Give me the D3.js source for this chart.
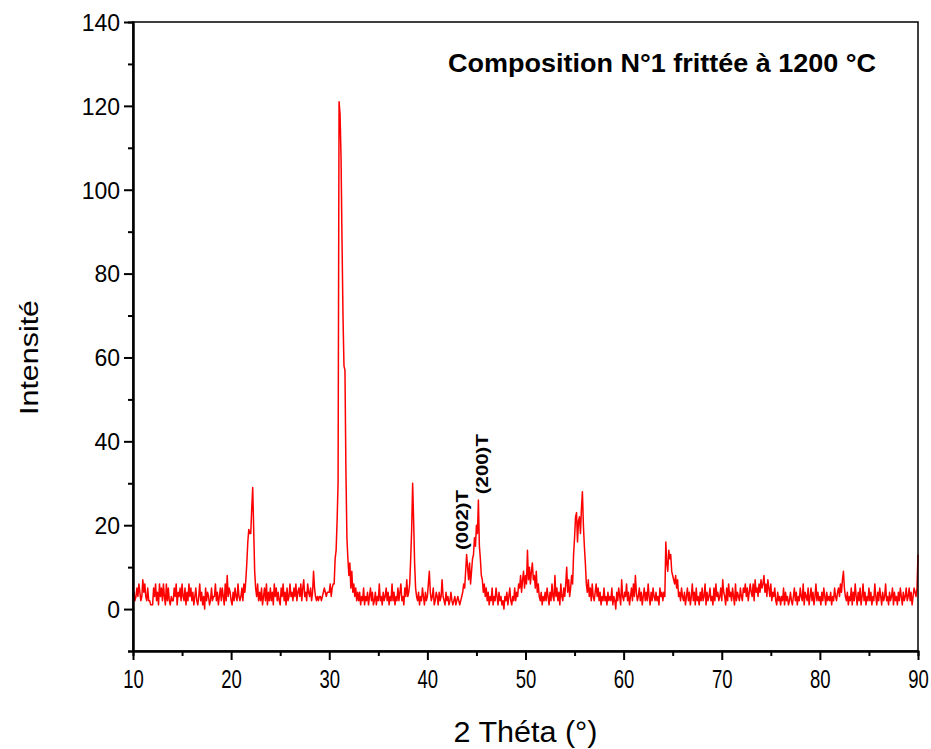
<!DOCTYPE html>
<html>
<head>
<meta charset="utf-8">
<script src="https://cdn.jsdelivr.net/npm/d3@7"></script>
<style>
  body { margin: 0; background: #fff; }
  svg { display: block; font-family: "Liberation Sans", Arial, sans-serif; }
</style>
</head>
<body>
<svg id="chart"></svg>
<script>
// scan grid: 10° to 90°, step 0.1°
const angleStart = 10;
const angleStep = 0.1;

const intensity = [
  3,4,2,3,5,3,6,4,2,3,
  7,4,6,3,2,5,2,2,1,1,
  1,5,3,6,2,4,1,6,3,5,
  2,6,3,1,6,2,5,2,1,3,
  2,2,5,3,6,1,4,3,5,2,
  6,3,2,5,1,4,2,6,3,5,
  2,4,1,3,5,2,1,3,6,2,
  4,1,3,0,5,2,4,3,1,2,
  5,2,3,3,6,2,4,1,3,5,
  2,5,3,1,6,2,8,3,5,4,
  2,1,4,2,5,3,2,6,3,2,
  3,5,2,6,4,7,11,16,19,18,
  18,24,29,19,9,5,3,6,2,4,
  2,5,1,3,5,2,6,1,4,2,
  5,2,4,1,6,3,5,2,4,2,
  1,5,3,6,2,4,1,5,2,3,
  6,3,4,2,5,3,6,2,4,5,
  3,6,2,5,7,3,4,2,6,4,
  3,5,2,4,9,5,3,2,3,2,
  3,3,2,3,4,5,4,3,4,4,
  4,6,3,5,6,6,12,14,21,30,
  121,118,108,88,70,58,57,33,17,12,
  8,11,5,9,4,6,3,5,2,4,
  2,4,1,3,2,5,1,3,2,4,
  1,3,5,2,4,1,2,4,1,3,
  2,6,2,3,1,4,2,3,5,2,
  4,1,3,2,6,2,4,1,3,2,
  5,2,4,6,2,3,1,5,3,7,
  3,4,6,12,19,30,21,11,5,3,
  2,4,1,3,2,5,3,1,4,2,
  3,6,9,4,2,3,5,1,2,4,
  3,1,4,2,3,7,3,2,1,4,
  2,3,1,2,4,2,1,2,3,1,
  2,3,2,1,2,3,4,6,5,9,
  13,10,7,11,6,9,12,13,17,15,
  20,18,26,15,12,8,7,4,6,3,
  5,2,4,1,3,2,5,1,3,2,
  5,3,1,4,2,3,1,2,0,3,
  2,4,1,3,5,2,1,3,2,5,
  2,4,3,6,5,8,4,7,9,5,
  8,6,14,7,10,6,9,11,7,8,
  5,9,4,6,3,2,4,1,3,2,
  4,2,5,3,1,4,2,6,3,2,
  8,3,5,2,4,1,6,3,2,5,
  3,6,10,4,7,3,5,8,6,13,
  17,22,23,16,21,22,18,24,28,20,
  15,11,6,4,7,3,5,2,6,3,
  2,4,6,3,5,2,4,1,3,2,
  5,2,3,1,4,2,3,2,5,1,
  3,2,0,4,2,5,3,1,7,3,
  2,4,3,6,2,4,1,3,5,2,
  6,3,8,4,2,3,5,2,4,1,
  3,5,2,4,2,6,3,1,4,2,
  5,3,2,4,2,3,1,5,3,4,
  2,4,3,16,11,9,14,12,13,9,
  8,7,6,8,5,7,3,4,2,5,
  3,2,4,1,3,5,2,4,1,3,
  6,2,4,1,5,2,3,1,4,2,
  5,2,3,6,1,4,2,3,5,2,
  3,1,5,2,6,3,4,2,3,5,
  2,7,4,3,1,5,2,6,3,4,
  2,5,3,1,6,2,4,3,2,5,
  3,2,5,4,6,3,5,2,4,6,
  4,3,6,2,7,4,5,3,6,4,
  7,5,6,8,4,6,3,7,5,3,
  6,2,4,3,5,2,1,4,2,3,
  1,3,2,5,1,4,2,3,1,2,
  4,2,1,3,5,2,4,1,3,2,
  5,3,2,6,1,4,3,2,5,1,
  3,5,2,4,1,3,6,2,4,2,
  3,1,4,2,5,3,1,4,2,3,
  2,4,1,3,2,5,3,2,4,5,
  3,6,4,7,9,5,3,2,4,1,
  3,2,5,1,4,2,6,3,1,4,
  2,5,1,3,6,2,4,1,3,2,
  5,2,4,1,3,2,6,3,1,4,
  2,5,3,1,4,2,3,6,2,3,
  1,4,2,3,5,1,4,2,3,1,
  4,2,5,3,1,4,2,3,5,2,
  3,5,2,4,1,3,5,4,3,5,
  13
];

const xTicks = [10, 20, 30, 40, 50, 60, 70, 80, 90];
const yTicks = [0, 20, 40, 60, 80, 100, 120, 140];

const peakLabels = [
  { label: '(002)T', angle: 44.1, value: 14.1 },
  { label: '(200)T', angle: 46.2, value: 27.4 }
];

const title = 'Composition N°1 frittée à 1200 °C';

const width = 931, height = 749;
const margin = { top: 22, right: 13, bottom: 98, left: 133 };
const innerW = width - margin.left - margin.right;
const innerH = height - margin.top - margin.bottom;

const data = intensity.map((v, i) => ({ x: angleStart + i * angleStep, y: v }));

const svg = d3.select('#chart')
  .attr('width', width)
  .attr('height', height);

const chart = svg.append('g')
  .attr('transform', `translate(${margin.left}, ${margin.top})`);

const xscale = d3.scaleLinear().domain([10, 90]).range([0, innerW]);
const yscale = d3.scaleLinear().domain([-10, 140]).range([innerH, 0]);

// data line
chart.append('path')
  .datum(data)
  .attr('fill', 'none')
  .attr('stroke', '#ff0000')
  .attr('stroke-width', 1.5)
  .attr('stroke-linejoin', 'round')
  .attr('d', d3.line().x(d => xscale(d.x)).y(d => yscale(d.y)));

// frame
chart.append('rect')
  .attr('width', innerW)
  .attr('height', innerH)
  .attr('fill', 'none')
  .attr('stroke', '#000')
  .attr('stroke-width', 1.5);

// minor ticks
const xMinor = d3.range(15, 90, 10);
const yMinor = d3.range(-10, 140, 20);

const xaxis_group = chart.append('g')
  .attr('transform', `translate(0, ${innerH})`);
xaxis_group.call(d3.axisBottom(xscale).tickValues(xTicks).tickSize(9).tickSizeOuter(0));
xaxis_group.append('g').call(d3.axisBottom(xscale).tickValues(xMinor).tickSize(5).tickFormat(''));

const yaxis_group = chart.append('g');
yaxis_group.call(d3.axisLeft(yscale).tickValues(yTicks).tickSize(9).tickSizeOuter(0));
yaxis_group.append('g').call(d3.axisLeft(yscale).tickValues(yMinor).tickSize(5).tickFormat(''));

chart.selectAll('.domain')
  .attr('stroke', '#000')
  .attr('stroke-width', 2);
chart.selectAll('.tick line')
  .attr('stroke', '#000')
  .attr('stroke-width', 2);

xaxis_group.selectAll('text')
  .style('font-size', '25px')
  .style('font-family', '"Liberation Sans", Arial, sans-serif')
  .attr('fill', '#000')
  .attr('y', 19)
  .attr('transform', 'scale(0.74, 1)');

yaxis_group.selectAll('text')
  .style('font-size', '23px')
  .style('font-family', '"Liberation Sans", Arial, sans-serif')
  .attr('fill', '#000')
  .attr('x', -13)
  .attr('dy', '0.36em');

// axis titles
svg.append('text')
  .attr('x', margin.left + innerW / 2)
  .attr('y', 742)
  .attr('text-anchor', 'middle')
  .style('font-size', '29px')
  .attr('textLength', 144)
  .attr('lengthAdjust', 'spacingAndGlyphs')
  .text('2 Théta (°)');

svg.append('text')
  .attr('transform', `translate(38, ${margin.top + yscale(60)}) rotate(-90)`)
  .attr('text-anchor', 'middle')
  .style('font-size', '25px')
  .attr('textLength', 115)
  .attr('lengthAdjust', 'spacingAndGlyphs')
  .text('Intensité');

// title
svg.append('text')
  .attr('x', 448)
  .attr('y', 72)
  .style('font-size', '26px')
  .style('font-weight', 'bold')
  .attr('textLength', 428)
  .attr('lengthAdjust', 'spacingAndGlyphs')
  .text(title);

// peak labels
chart.selectAll('.peak')
  .data(peakLabels)
  .enter()
  .append('text')
  .attr('class', 'peak')
  .attr('transform', d => `translate(${xscale(d.angle)}, ${yscale(d.value)}) rotate(-90)`)
  .style('font-size', '16px')
  .style('font-weight', 'bold')
  .attr('textLength', 60)
  .attr('lengthAdjust', 'spacingAndGlyphs')
  .text(d => d.label);
</script>
</body>
</html>
